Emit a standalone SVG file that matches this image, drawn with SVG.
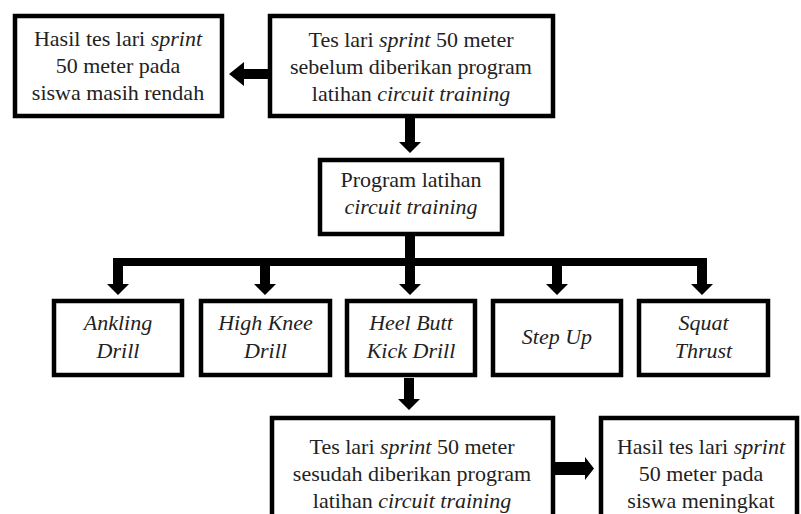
<svg xmlns="http://www.w3.org/2000/svg" width="801" height="514" viewBox="0 0 801 514">
<style>
.box{fill:#fff;stroke:#000;stroke-width:4.5}
text{font-family:"Liberation Serif","Times New Roman",serif;font-size:22px;fill:#222;text-anchor:middle}
.i{font-style:italic}
.arr{fill:#000}
</style>
<rect width="801" height="514" fill="#fff"/>
<g id="connectors">
  <polygon class="arr" points="269,69 244,69 244,62 229,74 244,86 244,79 269,79"/>
  <polygon class="arr" points="405,118 415,118 415,142 421,142 410,153 399,142 405,142"/>
  <rect class="arr" x="405" y="236" width="10" height="26"/>
  <rect class="arr" x="113" y="258" width="594" height="8"/>
  <polygon class="arr" points="113,262 123,262 123,284 129,284 118,295 107,284 113,284"/>
  <polygon class="arr" points="260,262 270,262 270,284 276,284 265,295 254,284 260,284"/>
  <polygon class="arr" points="405,262 415,262 415,284 421,284 410,295 399,284 405,284"/>
  <polygon class="arr" points="552,262 562,262 562,284 568,284 557,295 546,284 552,284"/>
  <polygon class="arr" points="697,262 707,262 707,284 713,284 702,295 691,284 697,284"/>
  <polygon class="arr" points="404,378 414,378 414,399 420,399 409,410 398,399 404,399"/>
  <polygon class="arr" points="555,462 585,462 585,457 594,468.5 585,480 585,475 555,475"/>
</g>
<g id="n-hasil-rendah">
  <rect class="box" x="15" y="16" width="207" height="100"/>
  <text x="118" y="46">Hasil tes lari <tspan class="i">sprint</tspan></text>
  <text x="118" y="73">50 meter pada</text>
  <text x="118" y="100">siswa masih rendah</text>
</g>
<g id="n-tes-sebelum">
  <rect class="box" x="270" y="16" width="283" height="100"/>
  <text x="411" y="47">Tes lari <tspan class="i">sprint</tspan> 50 meter</text>
  <text x="411" y="74">sebelum diberikan program</text>
  <text x="411" y="101">latihan <tspan class="i">circuit training</tspan></text>
</g>
<g id="n-program">
  <rect class="box" x="320" y="160" width="182" height="74"/>
  <text x="411" y="187">Program latihan</text>
  <text x="411" y="214" class="i">circuit training</text>
</g>
<g id="n-ankling">
  <rect class="box" x="54" y="301" width="128" height="74"/>
  <text x="118" y="330" class="i">Ankling</text>
  <text x="118" y="358" class="i">Drill</text>
</g>
<g id="n-highknee">
  <rect class="box" x="201" y="301" width="129" height="74"/>
  <text x="265.5" y="330" class="i">High Knee</text>
  <text x="265.5" y="358" class="i">Drill</text>
</g>
<g id="n-heelbutt">
  <rect class="box" x="347" y="301" width="128" height="74"/>
  <text x="411" y="330" class="i">Heel Butt</text>
  <text x="411" y="358" class="i">Kick Drill</text>
</g>
<g id="n-stepup">
  <rect class="box" x="493" y="301" width="128" height="74"/>
  <text x="557" y="344" class="i">Step Up</text>
</g>
<g id="n-squat">
  <rect class="box" x="639" y="301" width="129" height="74"/>
  <text x="703.5" y="330" class="i">Squat</text>
  <text x="703.5" y="358" class="i">Thrust</text>
</g>
<g id="n-tes-sesudah">
  <rect class="box" x="272" y="418" width="281" height="110"/>
  <text x="412" y="454">Tes lari <tspan class="i">sprint</tspan> 50 meter</text>
  <text x="412" y="481">sesudah diberikan program</text>
  <text x="412" y="508">latihan <tspan class="i">circuit training</tspan></text>
</g>
<g id="n-hasil-meningkat">
  <rect class="box" x="601" y="418" width="196" height="110"/>
  <text x="701" y="454">Hasil tes lari <tspan class="i">sprint</tspan></text>
  <text x="701" y="481">50 meter pada</text>
  <text x="701" y="508">siswa meningkat</text>
</g>
</svg>
